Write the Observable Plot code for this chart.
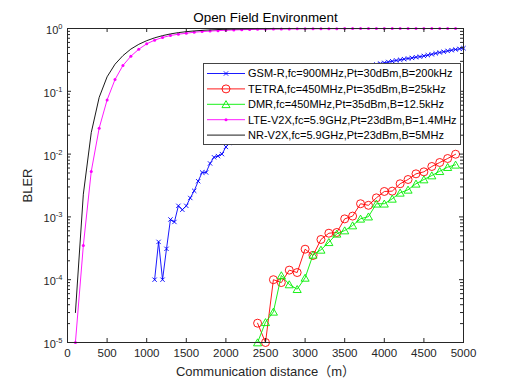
<!DOCTYPE html>
<html><head><meta charset="utf-8">
<script src="https://cdn.jsdelivr.net/npm/d3@7"></script>
<script src="https://cdn.jsdelivr.net/npm/@observablehq/plot@0.6"></script>
<style>
body{margin:0;background:#fff;}
#wrap{position:relative;width:512px;height:384px;font-family:"Liberation Sans",Arial,"Noto Sans CJK SC",sans-serif;}
#wrap svg{overflow:visible;}
#legend{position:absolute;left:203px;top:63px;}
</style></head><body><div id="wrap"></div>
<script>
const title = "Open Field Environment";
const xLabel = "Communication distance（m）";
const yLabel = "BLER";
const xTicks = [0,500,1000,1500,2000,2500,3000,3500,4000,4500,5000];
const yMajor = [1e-5,1e-4,1e-3,1e-2,1e-1,1];
const yMinor = [2e-5,3e-5,4e-5,5e-5,6e-5,7e-5,8e-5,9e-5,2e-4,3e-4,4e-4,5e-4,6e-4,7e-4,8e-4,9e-4,
  2e-3,3e-3,4e-3,5e-3,6e-3,7e-3,8e-3,9e-3,2e-2,3e-2,4e-2,5e-2,6e-2,7e-2,8e-2,9e-2,
  0.2,0.3,0.4,0.5,0.6,0.7,0.8,0.9];

const names = [
  "GSM-R,fc=900MHz,Pt=30dBm,B=200kHz",
  "TETRA,fc=450MHz,Pt=35dBm,B=25kHz",
  "DMR,fc=450MHz,Pt=35dBm,B=12.5kHz",
  "LTE-V2X,fc=5.9GHz,Pt=23dBm,B=1.4MHz",
  "NR-V2X,fc=5.9GHz,Pt=23dBm,B=5MHz"
];
const colors = ["#0000ff","#ff0000","#00ee00","#ff00ff","#000000"];

// GSM-R (distance step 50 m)
const gsmDist = [1100,1150,1200,1250,1300,1350,1400,1450,1500,1550,1600,1650,1700,1750,1800,1850,1900,1950,2000,2050,
  2100,2150,2200,2250,2300,2350,2400,2450,2500,2550,2600,2650,2700,2750,2800,2850,2900,2950,3000,3050,
  3100,3150,3200,3250,3300,3350,3400,3450,3500,3550,3600,3650,3700,3750,3800,3850,3900,3950,4000,4050,
  4100,4150,4200,4250,4300,4350,4400,4450,4500,4550,4600,4650,4700,4750,4800,4850,4900,4950,5000];
const gsmBler = [1.0e-4,4.0e-4,1.0e-4,3.1e-4,9.1e-4,8.3e-4,1.5e-3,1.3e-3,1.5e-3,2.0e-3,2.6e-3,3.7e-3,5.1e-3,5.1e-3,7.1e-3,8.9e-3,9.3e-3,1.0e-2,1.3e-2,1.5e-2,
  0.0170,0.0195,0.0222,0.0250,0.0282,0.0316,0.0350,0.0390,0.0430,0.0470,0.0515,0.0560,0.0610,0.0660,0.0715,0.0770,0.0830,0.0890,0.0950,0.101,
  0.108,0.115,0.122,0.130,0.138,0.146,0.154,0.163,0.172,0.182,0.192,0.203,0.215,0.228,0.245,0.258,0.268,0.277,0.284,0.293,
  0.301,0.310,0.318,0.325,0.333,0.340,0.349,0.356,0.366,0.376,0.388,0.402,0.415,0.427,0.440,0.451,0.463,0.474,0.486];

// TETRA and DMR (distance step 100 m)
const pmrDist = [2400,2500,2600,2700,2800,2900,3000,3100,3200,3300,3400,3500,3600,3700,3800,3900,4000,4100,4200,4300,4400,4500,4600,4700,4800,4900];
const tetraBler = [2.03e-5,1.0e-5,1.0e-4,9.0e-5,1.42e-4,1.30e-4,3.06e-4,2.43e-4,4.37e-4,5.5e-4,5.65e-4,9.3e-4,1.03e-3,1.62e-3,1.53e-3,2.01e-3,2.54e-3,2.57e-3,3.37e-3,3.94e-3,4.85e-3,5.22e-3,6.35e-3,7.35e-3,8.51e-3,9.95e-3];
const dmrBler = [1.0e-5,2.1e-5,3.08e-5,1.17e-4,8.4e-5,7.06e-5,1.07e-4,2.49e-4,2.99e-4,3.95e-4,5.38e-4,6.07e-4,7.29e-4,9.33e-4,1.01e-3,1.62e-3,1.62e-3,1.94e-3,2.42e-3,2.70e-3,3.37e-3,3.94e-3,4.56e-3,5.34e-3,6.2e-3,6.76e-3];

// LTE-V2X and NR-V2X (distance step 100 m)
const v2xDist = [100,200,300,400,500,600,700,800,900,1000,1100,1200,1300,1400,1500,1600,1700,1800,1900,2000,
  2100,2200,2300,2400,2500,2600,2700,2800,2900,3000,3100,3200,3300,3400,3500,3600,3700,3800,3900,4000,
  4100,4200,4300,4400,4500,4600,4700,4800,4900];
const lteBler = [1e-5,3.5e-4,5.3e-3,0.0259,0.073,0.154,0.258,0.362,0.468,0.570,0.652,0.719,0.774,0.811,0.841,0.873,0.893,0.910,0.925,0.938,
  0.948,0.957,0.964,0.970,0.975,0.979,0.983,0.986,0.988,0.990,0.992,0.993,0.994,0.995,0.996,0.9965,0.997,0.9975,0.998,0.9984,
  0.9987,0.999,0.9992,0.9993,0.9994,0.9995,0.9996,0.9997,0.9998];
const nrBler = [3e-5,2.3e-3,0.022,0.08,0.17,0.27,0.37,0.47,0.56,0.64,0.71,0.77,0.82,0.86,0.89,0.915,0.935,0.95,0.962,0.972,
  0.978,0.983,0.987,0.99,0.992,0.994,0.995,0.996,0.997,0.9975,0.998,0.9985,0.9988,0.999,0.9992,0.9993,0.9994,0.9995,0.9996,0.9997,
  0.9997,0.9998,0.9998,0.9998,0.9999,0.9999,0.9999,0.9999,0.9999];

const zip = (xs, ys) => xs.map((x, i) => ({x, y: ys[i]}));
const gsm = zip(gsmDist, gsmBler);
const tetra = zip(pmrDist, tetraBler);
const dmr = zip(pmrDist, dmrBler);
const lte = zip(v2xDist, lteBler);
const nr = zip(v2xDist, nrBler);

const axisColor = "#262626";
const lw = 0.9;

const chart = Plot.plot({
  width: 512, height: 384,
  marginLeft: 67, marginRight: 49, marginTop: 28, marginBottom: 42,
  style: {fontFamily: '"Liberation Sans", Arial, "Noto Sans CJK SC", sans-serif', fontSize: "11px", color: "#262626", background: "#fff"},
  x: {domain: [0, 5000], label: null},
  y: {type: "log", domain: [1e-5, 1], label: null},
  marks: [
    // GSM-R
    Plot.line(gsm, {x: "x", y: "y", stroke: colors[0], strokeWidth: lw}),
    Plot.dot(gsm, {x: "x", y: "y", symbol: "times", r: 2.1, stroke: colors[0], strokeWidth: lw}),
    // TETRA
    Plot.line(tetra, {x: "x", y: "y", stroke: colors[1], strokeWidth: lw}),
    Plot.dot(tetra, {x: "x", y: "y", symbol: "circle", r: 4, stroke: colors[1], fill: "none", strokeWidth: lw}),
    // DMR
    Plot.line(dmr, {x: "x", y: "y", stroke: colors[2], strokeWidth: lw}),
    Plot.dot(dmr, {x: "x", y: "y", symbol: "triangle", r: 3, dy: 1, stroke: colors[2], fill: "none", strokeWidth: lw}),
    // LTE-V2X
    Plot.line(lte, {x: "x", y: "y", stroke: colors[3], strokeWidth: lw}),
    Plot.dot(lte, {x: "x", y: "y", symbol: "circle", r: 1.5, fill: colors[3], stroke: "none"}),
    // NR-V2X
    Plot.line(nr, {x: "x", y: "y", stroke: colors[4], strokeWidth: lw}),
    // frame and inward ticks
    Plot.frame({stroke: axisColor, strokeWidth: 1}),
    Plot.ruleX(xTicks, {x: d => d, insetTop: 310, stroke: axisColor}),
    Plot.ruleX(xTicks, {x: d => d, insetBottom: 310, stroke: axisColor}),
    Plot.ruleY(yMajor, {y: d => d, insetRight: 392, stroke: axisColor}),
    Plot.ruleY(yMajor, {y: d => d, insetLeft: 392, stroke: axisColor}),
    Plot.ruleY(yMinor, {y: d => d, insetRight: 393, stroke: axisColor}),
    Plot.ruleY(yMinor, {y: d => d, insetLeft: 393, stroke: axisColor}),
    Plot.axisX(xTicks, {tickSize: 0, tickPadding: 6, fontSize: 11.5, label: null, tickFormat: d => String(d)}),
    Plot.axisY(yMajor, {tickSize: 0, tickPadding: 5, fontSize: 11, dy: 2, label: null,
      tickFormat: d => String(Math.round(Math.log10(d)))}),
    Plot.text([title], {frameAnchor: "top", lineAnchor: "middle", textAnchor: "middle", dy: -10.5, fontSize: 13.4, fill: "#000"}),
    Plot.text([xLabel], {frameAnchor: "bottom", lineAnchor: "middle", textAnchor: "middle", dy: 29, fontSize: 13, fill: "#262626"}),
    Plot.text([yLabel], {frameAnchor: "left", lineAnchor: "middle", textAnchor: "middle", dx: -40, rotate: -90, fontSize: 13, fill: "#262626"})
  ]
});

// superscript exponents on the log axis labels
chart.querySelectorAll('g[aria-label="y-axis tick label"] text').forEach(t => {
  const e = t.textContent;
  t.textContent = "10";
  const ts = document.createElementNS("http://www.w3.org/2000/svg", "tspan");
  ts.setAttribute("dy", "-5");
  ts.setAttribute("font-size", "7.5");
  ts.textContent = e;
  t.appendChild(ts);
});

const wrap = document.getElementById("wrap");
wrap.appendChild(chart);

// legend overlay
const lg = d3.select(wrap).append("svg").attr("id", "legend")
  .attr("width", 259).attr("height", 83)
  .style("font-family", '"Liberation Sans", Arial, sans-serif').style("font-size", "11px");
lg.append("rect").attr("x", 0.5).attr("y", 0.5).attr("width", 257).attr("height", 81)
  .attr("fill", "#fff").attr("stroke", "#444").attr("stroke-width", 1);
const symbols = [d3.symbolTimes, d3.symbolCircle, d3.symbolTriangle, d3.symbolCircle, null];
const sizes = [Math.PI * 2.1 * 2.1, Math.PI * 16, Math.PI * 9, Math.PI * 2.25, 0];
names.forEach((n, i) => {
  const cy = 10.5 + i * 15.4;
  const g = lg.append("g").attr("transform", `translate(0,${cy})`);
  g.append("line").attr("x1", 4).attr("x2", 42).attr("y1", 0).attr("y2", 0)
    .attr("stroke", colors[i]).attr("stroke-width", lw);
  if (symbols[i]) {
    const filled = i === 3;
    g.append("path").attr("d", d3.symbol(symbols[i], sizes[i])())
      .attr("transform", `translate(23,${i === 2 ? 1 : 0})`)
      .attr("fill", filled ? colors[i] : "none")
      .attr("stroke", filled ? "none" : colors[i]).attr("stroke-width", lw);
  }
  g.append("text").attr("x", 45).attr("y", 0).attr("dy", "0.35em").attr("fill", "#000").text(n);
});
</script>
</body></html>
